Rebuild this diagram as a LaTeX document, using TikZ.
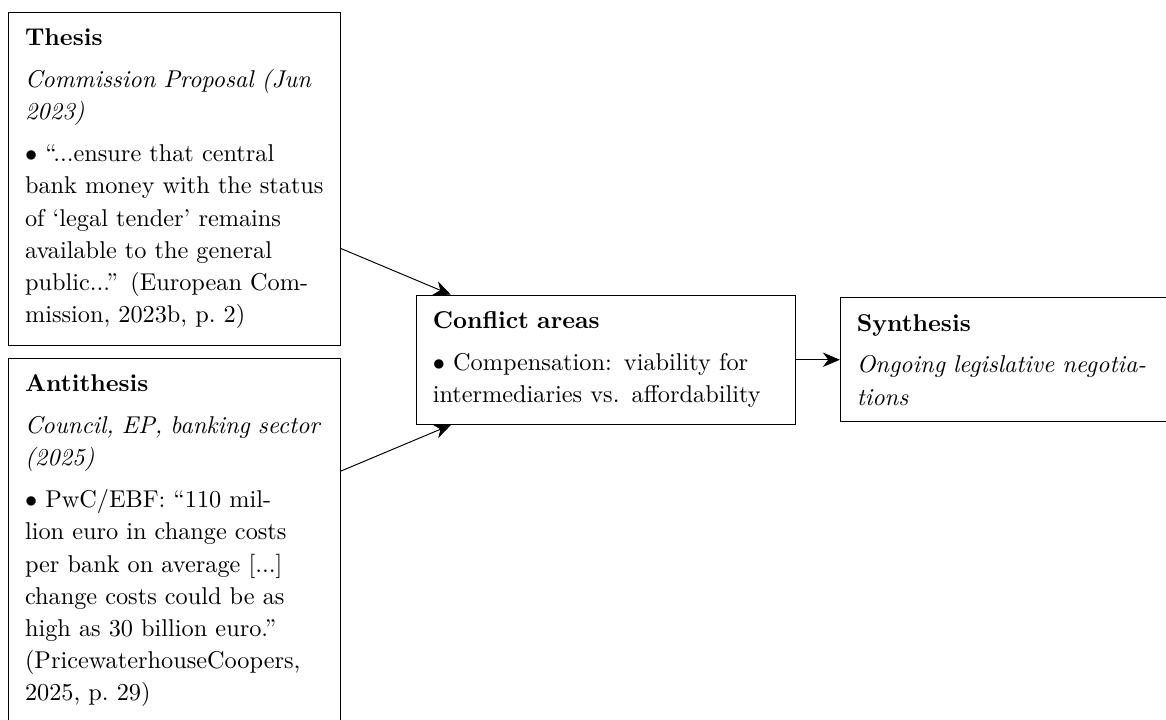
\documentclass[tikz,border=0pt]{standalone}
\usetikzlibrary{arrows.meta}
\hyphenation{status}
\begin{document}
\begin{tikzpicture}[x=1pt,y=1pt,
  box/.style={draw, align=left, text width=123pt, inner sep=6.8pt, anchor=north west,
    font=\fontsize{10}{13.25}\selectfont},
  arr/.style={-{Stealth[length=7pt,width=6pt]}}]
\useasboundingbox (0,0) rectangle (480,-296.3);
\node[box] (thesis) at (3.3,-4.9) {\textbf{Thesis}\\[4pt]
\textit{Commission Proposal (Jun 2023)}\\[4pt]
$\bullet$ “...ensure that central bank money with the status of ‘legal tender’ remains available to the general public...” (European Commission, 2023b, p.~2)};
\node[box] (anti) at (3.3,-147.3) {\textbf{Antithesis}\\[4pt]
\textit{Council, EP, banking sector (2025)}\\[4pt]
$\bullet$ PwC/EBF: “110 million euro in change costs per bank on average [...] change costs could be as high as 30 billion euro.” (PricewaterhouseCoopers, 2025, p.~29)};
\node[box, text width=142.4pt, anchor=west] (conf) at (171.2,-148.1) {\textbf{Conflict areas}\\[4pt]
$\bullet$ Compensation: viability for intermediaries vs. affordability};
\node[box, anchor=west] (syn) at (345.7,-148.1) {\textbf{Synthesis}\\[4pt]
\textit{Ongoing legislative negotiations}};
\draw[arr] (thesis) -- (conf);
\draw[arr] (anti) -- (conf);
\draw[arr] (conf) -- (syn);
\end{tikzpicture}
\end{document}
